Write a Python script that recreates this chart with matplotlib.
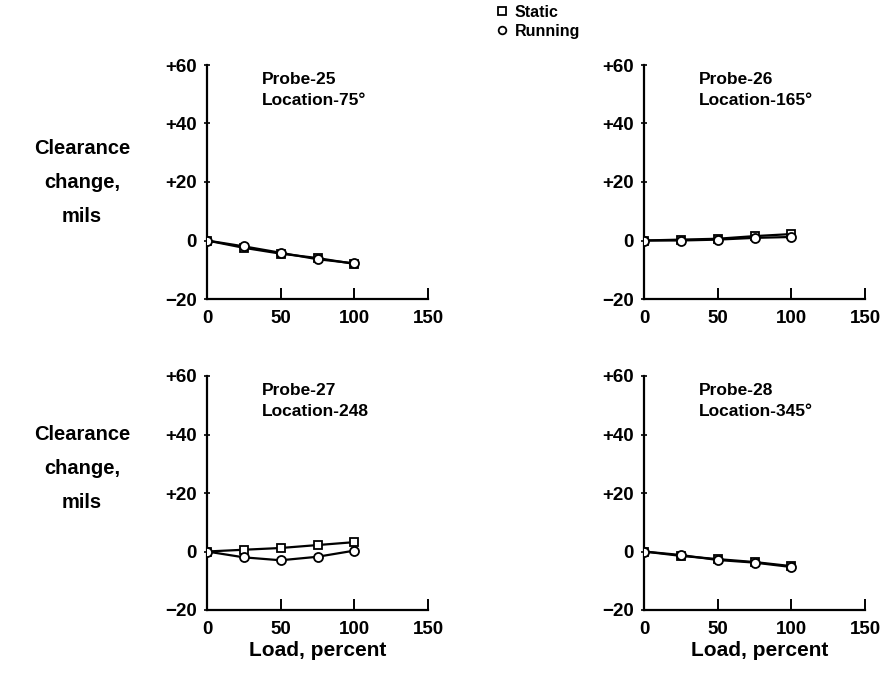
import matplotlib
matplotlib.use("Agg")
import matplotlib.pyplot as plt
from matplotlib.lines import Line2D

plt.rcParams['font.family'] = ['Liberation Sans', 'DejaVu Sans']
plt.rcParams['font.weight'] = 'bold'

load = [0, 25, 50, 75, 100]

probes = ["Probe-25", "Probe-26", "Probe-27", "Probe-28"]
locations = ["Location-75°", "Location-165°", "Location-248", "Location-345°"]

static = [
    [0, -2.5, -4.5, -6.0, -8.0],
    [0, 0.3, 0.6, 1.5, 2.2],
    [0, 0.6, 1.2, 2.2, 3.2],
    [0, -1.5, -2.6, -3.6, -5.0],
]
running = [
    [0, -2.0, -4.2, -6.4, -7.8],
    [0, 0.0, 0.3, 0.9, 1.2],
    [0, -2.0, -3.0, -1.8, 0.3],
    [0, -1.2, -2.9, -3.8, -5.3],
]

xticks = [0, 50, 100, 150]
yticks = [-20, 0, 20, 40, 60]
yticklabels = ["\u221220", "0", "+20", "+40", "+60"]

W, H = 883, 685
fig = plt.figure(figsize=(W / 100, H / 100), dpi=100)

lefts = [207 / W, 644 / W]
bottoms = [1 - 299 / H, 1 - 610 / H]
aw, ah = 221 / W, 234 / H

for i in range(4):
    r, c = divmod(i, 2)
    ax = fig.add_axes([lefts[c], bottoms[r], aw, ah])
    ax.plot(load, static[i], color='black', lw=1.6, marker='s', ms=5.5,
            mfc='white', mec='black', mew=1.3, zorder=3)
    ax.plot(load, running[i], color='black', lw=1.6, marker='o', ms=6.5,
            mfc='white', mec='black', mew=1.3, zorder=4)
    ax.set_xlim(0, 150)
    ax.set_ylim(-20, 60)
    ax.set_xticks(xticks)
    ax.set_yticks(yticks)
    ax.set_yticklabels(yticklabels)
    for s in ('top', 'right'):
        ax.spines[s].set_visible(False)
    for s in ('left', 'bottom'):
        ax.spines[s].set_linewidth(1.6)
    ax.tick_params(axis='x', direction='in', length=8, width=1.4,
                   labelsize=13.5, pad=8)
    ax.tick_params(axis='y', direction='inout', length=5, width=1.2,
                   labelsize=13.5, pad=5)
    ax.text(37, 57.5, probes[i] + "\n" + locations[i], fontsize=12.5,
            fontweight='bold', va='top', ha='left', linespacing=1.45)

for yc in (182 / H, 468 / H):
    fig.text(82 / W, 1 - yc, "Clearance\nchange,\nmils", ha='center',
             va='center', fontsize=14.5, fontweight='bold', linespacing=2.0)

for xc in (318 / W, 760 / W):
    fig.text(xc, 1 - 650 / H, "Load, percent", ha='center', va='center',
             fontsize=15, fontweight='bold')

handles = [
    Line2D([], [], ls='none', marker='s', ms=5.5, mfc='white', mec='black',
           mew=1.3, label='Static'),
    Line2D([], [], ls='none', marker='o', ms=5.5, mfc='white', mec='black',
           mew=1.3, label='Running'),
]
fig.legend(handles=handles, loc='upper left', bbox_to_anchor=(494 / W, 1 - 5 / H),
           frameon=False, fontsize=11.5, handletextpad=0.3, labelspacing=0.25,
           handlelength=1.0, borderaxespad=0, borderpad=0)

fig.savefig("out.png", dpi=100)
